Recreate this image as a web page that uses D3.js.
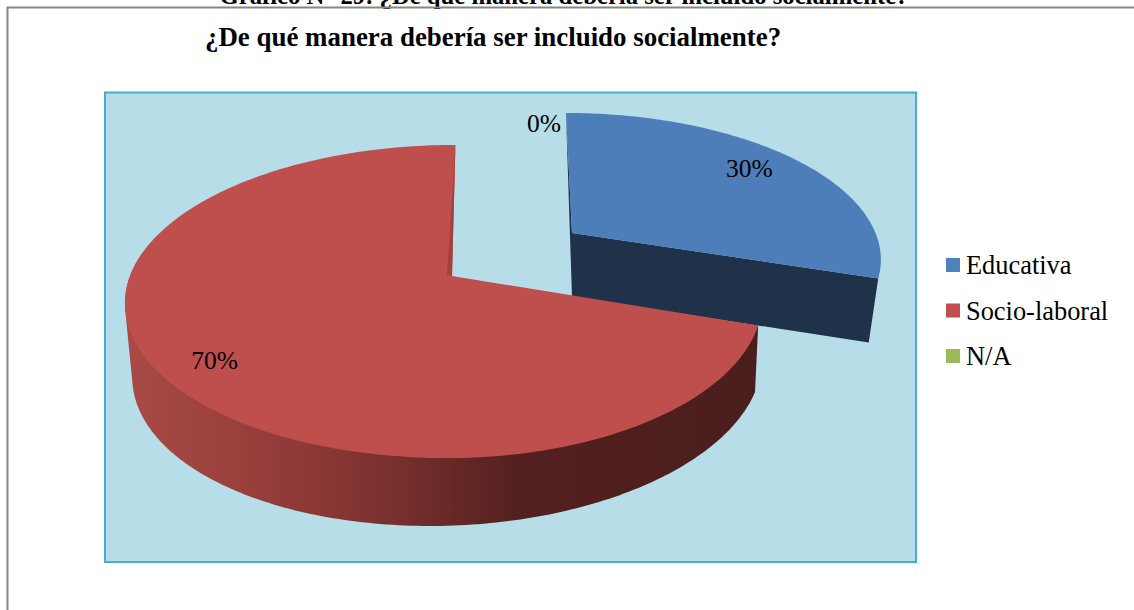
<!DOCTYPE html>
<html>
<head>
<meta charset="utf-8">
<script src="https://cdn.jsdelivr.net/npm/d3@7"></script>
<style>
    html, body { margin: 0; padding: 0; background: #fff; overflow: hidden; }
    svg { display: block; }
    text { font-family: "Liberation Serif", serif; fill: #000; }
</style>
</head>
<body>
<script>
// The chart data
var categories = ["Educativa", "Socio-laboral", "N/A"];
var values = [30, 70, 0];
var labels = ["30%", "70%", "0%"];
var colors = ["#4f81bd", "#c0504d", "#9bbb59"];

var pageTitle = "Gráfico N° 29: ¿De qué manera debería ser incluido socialmente?";
var chartTitle = "¿De qué manera debería ser incluido socialmente?";

var width = 1134, height = 610;

var svg = d3.select("body").append("svg")
    .attr("width", width)
    .attr("height", height);

// Shaded side of the big slice, dark towards the right
var grad = svg.append("defs").append("linearGradient")
    .attr("id", "redWall")
    .attr("gradientUnits", "userSpaceOnUse")
    .attr("x1", 124).attr("x2", 760).attr("y1", 0).attr("y2", 0);
[[0, "#a94a46"], [0.2, "#983f3c"], [0.35, "#853532"], [0.5, "#6a2a28"], [0.62, "#52201f"], [1, "#4b1e1e"]]
    .forEach(function (s) {
        grad.append("stop").attr("offset", s[0]).attr("stop-color", s[1]);
    });

// Caption of the document page, cut by the top of the picture
svg.append("text")
    .attr("x", 564).attr("y", 4)
    .attr("text-anchor", "middle")
    .attr("font-weight", "bold")
    .style("font-size", "24.7px")
    .text(pageTitle);

// Chart frame, its right and bottom sides are outside the picture
svg.append("path")
    .attr("d", "M7.5," + height + "V7.5H" + width)
    .attr("fill", "none")
    .attr("stroke", "#868686")
    .attr("stroke-width", 2);

svg.append("text")
    .attr("x", 205).attr("y", 46)
    .attr("font-weight", "bold")
    .style("font-size", "26.9px")
    .text(chartTitle);

// Plot area
svg.append("rect")
    .attr("x", 105).attr("y", 92.5)
    .attr("width", 811).attr("height", 469.5)
    .attr("fill", "#b7dde8")
    .attr("stroke", "#4bacc6")
    .attr("stroke-width", 2);

// Perspective of the pie plane: anything far away gets smaller
var persp = 0.163;

function makeFrame(cx, cy, left, right, depth, skew) {
    return {
        x: d3.scaleLinear().domain([-1, 0, 1]).range([cx - left, cx, cx + right]),
        y: d3.scaleLinear().domain([-1, 1]).range([cy + depth, cy - depth]),
        skew: skew
    };
}

// Project a pie angle and radius onto the picture
function project(f, angle, r) {
    var u = r * Math.sin(angle), v = r * Math.cos(angle);
    var w = 1 + persp * v;
    return [f.x(u / w) + f.skew * v / w, f.y(v / w)];
}

// Top and bottom plane of each slice
var redTop = makeFrame(452, 276, 322, 307, 152.4, 4);
var redBottom = makeFrame(452, 342, 312, 308.4, 154, 18);
var blueTop = makeFrame(572, 233, 303, 303.5, 139.6, -7);
var blueBottom = makeFrame(572, 297, 290, 294, 139.6, -7);

var pie = d3.pie().sort(null).value(function (d) { return d; });
var slices = pie(values);
var blue = slices[0], red = slices[1], none = slices[2];

function rim(f, a0, a1) {
    var n = Math.max(2, Math.ceil(Math.abs(a1 - a0) * 60));
    return d3.range(n + 1).map(function (i) {
        return project(f, a0 + (a1 - a0) * i / n, 1);
    });
}

var line = d3.line();

// Blue slice, pulled out and drawn first since the red one covers it
svg.append("path")
    .attr("d", line([project(blueTop, blue.startAngle, 1), project(blueTop, 0, 0), project(blueBottom, 0, 0)]) + "Z")
    .attr("fill", "#1f3249");
svg.append("path")
    .attr("d", line([project(blueTop, 0, 0), project(blueTop, blue.endAngle, 1), project(blueBottom, blue.endAngle, 1), project(blueBottom, 0, 0)]) + "Z")
    .attr("fill", "#1f3249");
svg.append("path")
    .attr("d", line([project(blueTop, 0, 0)].concat(rim(blueTop, blue.startAngle, blue.endAngle))) + "Z")
    .attr("fill", "#4d7eb9");

// Side of the red slice, the hull of both rims gives the straight silhouette on the left
var wallEnd = 1.55 * Math.PI;
svg.append("path")
    .attr("d", line(d3.polygonHull(rim(redTop, red.startAngle, wallEnd).concat(rim(redBottom, red.startAngle, wallEnd)))) + "Z")
    .attr("fill", "url(#redWall)");

// Top of the red slice
svg.append("path")
    .attr("d", line([project(redTop, 0, 0)].concat(rim(redTop, red.startAngle, red.endAngle))) + "Z")
    .attr("fill", "#be4f4c");

// Thin inner side showing along the straight edge of the red slice
var apex = project(redTop, 0, 0);
svg.append("path")
    .attr("d", line([project(redTop, red.endAngle, 1), apex, [apex[0] - 5, apex[1] - 1]]) + "Z")
    .attr("fill", "#a5403c");

// Data labels
var labelPlace = [
    { slice: blue, frame: blueTop, r: 0.843, dx: -11, dy: 0 },
    { slice: red, frame: redTop, r: 0.87, dx: 12, dy: 0 },
    { slice: none, frame: blueTop, r: 1, dx: -22, dy: 11 }
];
svg.append("g").selectAll("text")
    .data(labelPlace)
    .enter()
    .append("text")
    .attr("transform", function (d) {
        var p = project(d.frame, (d.slice.startAngle + d.slice.endAngle) / 2, d.r);
        return "translate(" + (p[0] + d.dx) + "," + (p[1] + d.dy) + ")";
    })
    .attr("text-anchor", "middle")
    .attr("dy", "0.33em")
    .style("font-size", "25.5px")
    .text(function (d, i) { return labels[i]; });

// Legend
var legendY = d3.scalePoint().domain(categories).range([265, 356]);
var legend = svg.append("g").selectAll("g")
    .data(categories)
    .enter()
    .append("g")
    .attr("transform", function (d) { return "translate(946," + legendY(d) + ")"; });
legend.append("rect")
    .attr("y", -7).attr("width", 14).attr("height", 14)
    .attr("fill", function (d, i) { return colors[i]; });
legend.append("text")
    .attr("x", 20).attr("y", 9)
    .style("font-size", "26.4px")
    .text(function (d) { return d; });
</script>
</body>
</html>
